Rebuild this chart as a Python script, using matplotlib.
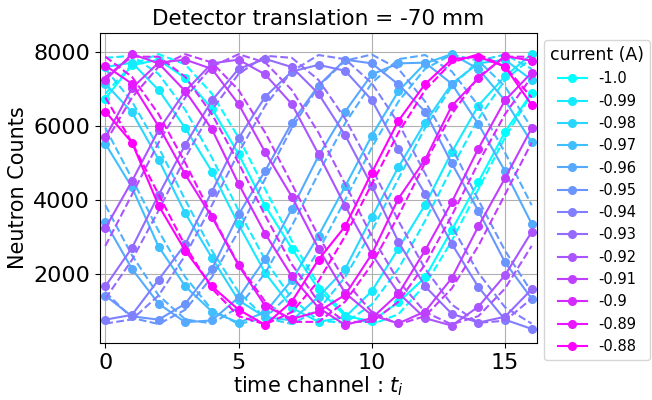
import matplotlib
matplotlib.use("Agg")
import matplotlib.pyplot as plt
import numpy as np

time_channel = list(range(17))
currents = ["-1.0", "-0.99", "-0.98", "-0.97", "-0.96", "-0.95", "-0.94",
            "-0.93", "-0.92", "-0.91", "-0.9", "-0.89", "-0.88"]

# measured neutron counts (solid lines with markers)
counts_m100 = [6750, 7650, 7800, 7300, 6480, 5250, 3850, 2700, 1600, 880, 740, 1250, 1920, 3200, 4500, 5850, 6900]
counts_m099 = [7600, 7720, 6980, 5950, 4780, 3350, 2040, 1100, 720, 850, 1550, 2700, 3880, 5300, 6560, 7350, 7950]
counts_m098 = [7150, 6380, 5100, 3650, 2450, 1300, 850, 760, 1400, 2150, 3550, 4900, 6100, 7150, 7700, 7800, 7250]
counts_m097 = [5530, 4350, 2750, 1680, 1000, 700, 980, 1850, 3050, 4380, 5750, 6950, 7700, 7950, 7550, 6700, 5570]
counts_m096 = [3410, 2150, 1210, 710, 760, 1380, 2420, 3770, 5200, 6400, 7400, 7700, 7720, 7150, 6060, 4790, 3370]
counts_m095 = [1430, 870, 780, 1210, 2150, 3620, 4800, 6100, 7100, 7800, 7700, 7130, 6400, 5000, 3720, 2330, 1350]
counts_m094 = [780, 910, 1860, 2820, 4240, 5680, 6800, 7480, 7660, 7500, 6710, 5390, 4180, 2830, 1660, 780, 530]
counts_m093 = [1680, 2720, 4150, 5500, 6700, 7550, 7820, 7600, 6880, 5760, 4400, 2880, 1680, 940, 700, 860, 1600]
counts_m092 = [3250, 4520, 5900, 6950, 7700, 7800, 7400, 6600, 5250, 3850, 2550, 1500, 820, 620, 1130, 1980, 3150]
counts_m091 = [5700, 7030, 7720, 7800, 7550, 6600, 5300, 4100, 2700, 1500, 900, 680, 1000, 1900, 3300, 4600, 5950]
counts_m090 = [7250, 7950, 7700, 6950, 5920, 4450, 3100, 1950, 1100, 640, 820, 1480, 2650, 3950, 5400, 6700, 7450]
counts_m089 = [7640, 7150, 6000, 4700, 3550, 2250, 1150, 800, 1000, 1450, 2550, 4050, 5100, 6550, 7300, 7900, 7770]
counts_m088 = [6400, 5560, 3860, 2640, 1680, 1050, 640, 1270, 2400, 3300, 4750, 6150, 7140, 7810, 7880, 7610, 6580]

# fitted curves (dashed lines)
fit_m100 = [6881, 7672, 7950, 7672, 6881, 5697, 4300, 2903, 1719, 928, 650, 928, 1719, 2903, 4300, 5697, 6881]
fit_m099 = [7849, 7905, 7412, 6445, 5152, 3729, 2393, 1347, 751, 695, 1188, 2155, 3448, 4871, 6207, 7253, 7849]
fit_m098 = [7552, 6670, 5428, 4013, 2643, 1525, 828, 661, 1048, 1930, 3172, 4587, 5957, 7075, 7772, 7939, 7552]
fit_m097 = [5957, 4587, 3172, 1930, 1048, 661, 828, 1525, 2643, 4013, 5428, 6670, 7552, 7939, 7772, 7075, 5957]
fit_m096 = [3871, 2517, 1434, 787, 675, 1115, 2040, 3309, 4729, 6083, 7166, 7813, 7925, 7485, 6560, 5291, 3871]
fit_m095 = [1525, 828, 661, 1048, 1930, 3172, 4587, 5957, 7075, 7772, 7939, 7552, 6670, 5428, 4013, 2643, 1525]
fit_m094 = [675, 787, 1434, 2517, 3871, 5291, 6560, 7485, 7925, 7813, 7166, 6083, 4729, 3309, 2040, 1115, 675]
fit_m093 = [1347, 2393, 3729, 5152, 6445, 7412, 7905, 7849, 7253, 6207, 4871, 3448, 2155, 1188, 695, 751, 1347]
fit_m092 = [2772, 4157, 5563, 6778, 7613, 7947, 7724, 6980, 5828, 4443, 3037, 1822, 985, 653, 876, 1620, 2772]
fit_m091 = [5563, 6778, 7613, 7947, 7724, 6980, 5828, 4443, 3037, 1822, 985, 653, 876, 1620, 2772, 4157, 5563]
fit_m090 = [7335, 7880, 7880, 7335, 6328, 5012, 3588, 2272, 1265, 720, 720, 1265, 2272, 3588, 5012, 6328, 7335]
fit_m089 = [7880, 7335, 6328, 5012, 3588, 2272, 1265, 720, 720, 1265, 2272, 3588, 5012, 6328, 7335, 7880, 7880]
fit_m088 = [6778, 5563, 4157, 2772, 1620, 876, 653, 985, 1822, 3037, 4443, 5828, 6980, 7724, 7947, 7613, 6778]

measured = [counts_m100, counts_m099, counts_m098, counts_m097, counts_m096, counts_m095,
            counts_m094, counts_m093, counts_m092, counts_m091, counts_m090, counts_m089, counts_m088]
fitted = [fit_m100, fit_m099, fit_m098, fit_m097, fit_m096, fit_m095,
          fit_m094, fit_m093, fit_m092, fit_m091, fit_m090, fit_m089, fit_m088]

colors = plt.cm.cool(np.linspace(0, 1, len(currents)))

fig = plt.figure(figsize=(6.52, 4.0), dpi=100)
ax = fig.add_axes([0.1534, 0.1425, 0.6702, 0.775])

for lab, y, yf, c in zip(currents, measured, fitted, colors):
    ax.plot(time_channel, y, '-o', color=c, lw=1.5, ms=5.5, label=lab)
    ax.plot(time_channel, yf, '--', color=c, lw=1.5)

ax.set_xlim(-0.2, 16.2)
ax.set_ylim(150, 8520)
ax.set_xticks([0, 5, 10, 15])
ax.set_yticks([2000, 4000, 6000, 8000])
ax.grid(True, color='#b0b0b0', lw=0.8)
ax.tick_params(labelsize=16)
ax.set_xlabel('time channel : $t_i$', fontsize=15, labelpad=1)
ax.set_ylabel('Neutron Counts', fontsize=15)
ax.set_title('Detector translation = -70 mm', fontsize=15.5)
leg = ax.legend(title='current (A)', loc='upper left', bbox_to_anchor=(1.0, 1.0),
                fontsize=10.5, title_fontsize=12.5)

fig.savefig('out.png', dpi=100)
